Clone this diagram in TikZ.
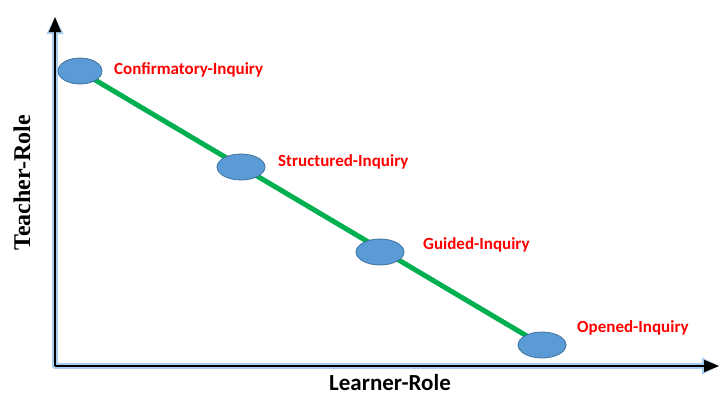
\documentclass[tikz,border=0pt]{standalone}
\usepackage{fontspec}
\setmainfont{Carlito}
\newfontfamily\timesfont{Liberation Serif}
\usetikzlibrary{arrows.meta,shapes.geometric,backgrounds}

\definecolor{stageblue}{HTML}{5B9BD5}
\definecolor{stageedge}{HTML}{41719C}
\definecolor{pathgreen}{HTML}{00B050}
\definecolor{glowblue}{HTML}{A9CCEC}

\tikzset{
  stage/.style={ellipse, draw=stageedge, fill=stageblue, line width=0.8pt,
    minimum width=48pt, minimum height=26pt, inner sep=0pt},
  stagelabel/.style={anchor=west, inner sep=0pt, text=red,
    font=\fontsize{17}{20}\selectfont\bfseries},
  axisline/.style={line width=1.6pt, -{Triangle[length=15pt,width=12pt]}},
  axisglow/.style={line width=5.5pt, glowblue, line cap=round,
    -{Triangle[length=17pt,width=16pt]}},
}

\begin{document}
\begin{tikzpicture}[x=1pt,y=-1pt]
  \useasboundingbox (0,0) rectangle (719,397);

  % axes, each with a soft halo underneath
  \coordinate (origin) at (55,366);
  \coordinate (ytop) at (55,17);
  \coordinate (xend) at (719,366);
  \draw[axisglow] (origin) -- (ytop);
  \draw[axisglow] (origin) -- (xend);
  \draw[axisline] (origin) -- (ytop);
  \draw[axisline] (origin) -- (xend);

  \node[rotate=90, font=\timesfont\bfseries\fontsize{24}{27}\selectfont] (teacher) at (22,183) {Teacher-Role};
  \node[font=\bfseries\fontsize{23}{26}\selectfont] (learner) at (390,383) {Learner-Role};

  % the four inquiry levels
  \node[stage, minimum width=44pt] (conf) at (80,71) {};
  \node[stage] (struct) at (241,167) {};
  \node[stage] (guided) at (380,252) {};
  \node[stage] (opened) at (542,345) {};

  \begin{scope}[on background layer]
    \draw[pathgreen, line width=5pt] (conf.center) -- (opened.center);
  \end{scope}

  \node[stagelabel] (conflabel) at (114,70) {Confirmatory-Inquiry};
  \node[stagelabel] (structlabel) at (278,162) {Structured-Inquiry};
  \node[stagelabel] (guidedlabel) at (423,245) {Guided-Inquiry};
  \node[stagelabel] (openedlabel) at (577,328) {Opened-Inquiry};
\end{tikzpicture}
\end{document}
